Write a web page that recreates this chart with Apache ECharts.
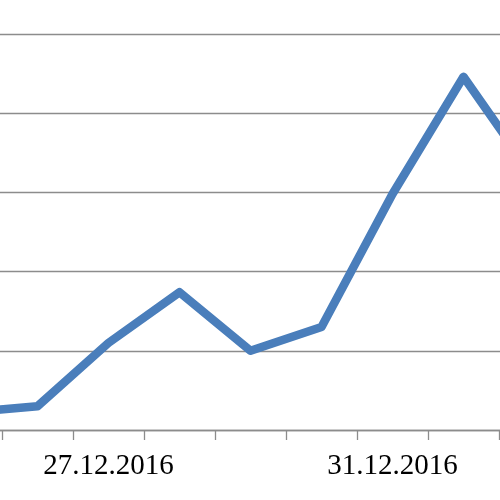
<!DOCTYPE html>
<html>
<head>
<meta charset="utf-8">
<script src="https://cdn.jsdelivr.net/npm/echarts@6/dist/echarts.min.js"></script>
<style>html,body{margin:0;padding:0;background:#fff;overflow:hidden;width:500px;height:500px;}#c{position:absolute;left:-69px;top:0;width:639px;height:500px;}</style>
</head>
<body>
<div id="c"></div>
<script>
var categories = ['25.12.2016','26.12.2016','27.12.2016','28.12.2016','29.12.2016','30.12.2016','31.12.2016','01.01.2017','02.01.2017'];
var values = [2.2, 3.0, 11.0, 17.4, 10.0, 13.0, 29.8, 44.6, 31.8];
var yTicks = [0, 10, 20, 30, 40, 50];

var chart = echarts.init(document.getElementById('c'), null, {renderer: 'canvas'});
chart.setOption({
  animation: false,
  backgroundColor: '#ffffff',
  grid: {left: 0, right: 0, top: 34, bottom: 70, containLabel: false},
  xAxis: {
    type: 'category',
    data: categories,
    boundaryGap: true,
    axisLine: {show: true, lineStyle: {color: '#8c8c8c', width: 1.3}},
    axisTick: {show: true, interval: 0, length: 10, lineStyle: {color: '#8c8c8c', width: 1.3}},
    axisLabel: {
      interval: function (i) { return i % 4 === 2; },
      margin: 22,
      fontFamily: 'Liberation Serif',
      fontSize: 29,
      color: '#000'
    },
    splitLine: {show: false}
  },
  yAxis: {
    type: 'value',
    min: yTicks[0],
    max: yTicks[yTicks.length - 1],
    interval: 10,
    axisLine: {show: false},
    axisTick: {show: false},
    axisLabel: {show: false},
    splitLine: {show: true, lineStyle: {color: '#8c8c8c', width: 1.3}}
  },
  series: [{
    type: 'line',
    data: values,
    symbol: 'none',
    lineStyle: {color: '#4a7ebb', width: 8.5, join: 'round', cap: 'round'}
  }]
});
</script>
</body>
</html>
